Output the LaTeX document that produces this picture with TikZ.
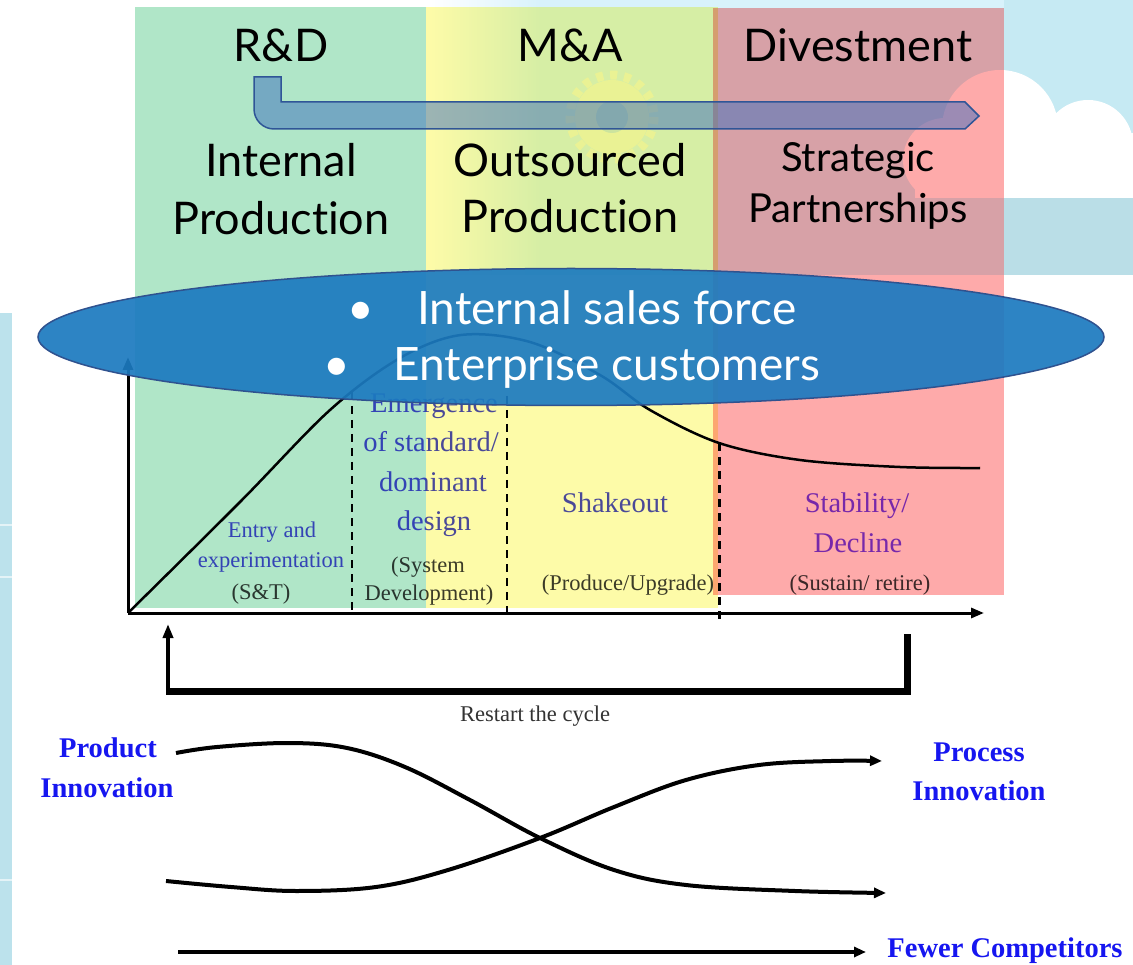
\documentclass[tikz,border=0pt]{standalone}
\usepackage{fontspec}
\newfontfamily\gillfont{Lato}[Ligatures=NoCommon]
\newfontfamily\timesfont{Liberation Serif}
\usetikzlibrary{arrows.meta,shapes.geometric}

\definecolor{skylight}{RGB}{216,242,251}
\definecolor{skyc}{RGB}{198,234,243}
\definecolor{skyband}{RGB}{186,222,231}
\definecolor{stripblue}{RGB}{188,226,236}
\definecolor{gearc}{RGB}{236,246,226}
\definecolor{gearhub}{RGB}{206,232,240}
\definecolor{colgreen}{RGB}{176,230,200}
\definecolor{colyellow}{RGB}{253,251,168}
\definecolor{colpink}{RGB}{254,170,170}
\definecolor{barfill}{RGB}{60,110,190}
\definecolor{barline}{RGB}{47,85,151}
\definecolor{ellfill}{RGB}{28,122,192}
\definecolor{ellline}{RGB}{47,82,143}
\definecolor{stageblue}{RGB}{75,75,232}
\definecolor{stagepurple}{RGB}{120,60,255}
\definecolor{stagegrey}{RGB}{60,60,60}
\definecolor{innoblue}{RGB}{22,22,240}

\begin{document}
\begin{tikzpicture}[x=1pt,y=-1pt,
  toplabel/.style={font=\gillfont\fontsize{45}{52}\selectfont, anchor=base, inner sep=0pt},
  partnerlabel/.style={font=\gillfont\fontsize{40}{46}\selectfont, anchor=base, inner sep=0pt},
  salesline/.style={font=\gillfont\fontsize{46}{52}\selectfont, text=white, anchor=base, inner sep=0pt},
  stagetitle/.style={font=\timesfont\fontsize{28.5}{30}\selectfont, text=stageblue, anchor=base, inner sep=0pt},
  stagetitlesm/.style={font=\timesfont\fontsize{22.5}{24}\selectfont, text=stageblue, anchor=base, inner sep=0pt},
  stagenote/.style={font=\timesfont\fontsize{22.5}{24}\selectfont, text=stagegrey, anchor=base, inner sep=0pt},
  innolabel/.style={font=\timesfont\bfseries\fontsize{28.5}{30}\selectfont, text=innoblue, anchor=base, inner sep=0pt},
  axisline/.style={line width=3pt, -{Triangle[length=13pt,width=10pt]}},
  phasediv/.style={line width=2.5pt, dash pattern=on 8pt off 6pt},
  lifecurve/.style={line width=2.5pt, line join=round},
  flowcurve/.style={line width=4pt, -{Triangle[length=12pt,width=10pt]}},
  loopline/.style={line width=7pt, line join=miter},
  looparrow/.style={line width=3.5pt, -{Triangle[length=14pt,width=10pt]}},
  bandarrow/.style={draw=barline, line width=1.5pt, fill=barfill, fill opacity=0.5},
  salesellipse/.style={ellipse, draw=ellline, line width=1.5pt, fill=ellfill, fill opacity=0.92,
    minimum width=1066pt, minimum height=137pt, inner sep=0pt}
]
\useasboundingbox (0,0) rectangle (1133,965);
\fill[white] (0,0) rectangle (1133,965);

% sky backdrop behind the strategy columns
\shade[left color=white, right color=skylight] (430,0) rectangle (540,275);
\fill[skylight] (540,0) rectangle (1004,275);
\fill[skyc] (1004,0) rectangle (1133,275);
\fill[skyband] (1004,198) rectangle (1133,275);
% cloud
\begin{scope}
  \clip (880,40) rectangle (1133,198);
  \fill[white] (945,160) circle (42);
  \fill[white] (1000,128) circle (58);
  \fill[white] (1088,145) circle (45);
  \fill[white] (1135,168) circle (35);
  \fill[white] (915,140) rectangle (1133,198);
\end{scope}
% gear
\fill[gearc] (612,117) circle (37);
\draw[gearc, line width=9pt, dash pattern=on 7pt off 7pt] (612,117) circle (42);
\fill[gearhub] (612,117) circle (16);

% left strip of the neighbouring slide
\fill[stripblue] (0,313) rectangle (12,965);
\draw[white, opacity=0.6, line width=1.5pt] (0,525) -- (12,525) (0,577) -- (12,577) (0,880) -- (12,880);

% ---------- industry life cycle ----------
\coordinate (origin) at (128,613);
\coordinate (ytip) at (128,357);
\coordinate (xtip) at (984,613);
\draw[axisline] (origin) -- (ytip);
\draw[axisline] (origin) -- (xtip);

\draw[lifecurve] plot[smooth, tension=0.55] coordinates {(128,613) (240,502) (330,410) (400,358) (461,335) (530,342) (600,375) (650,410) (719,443) (800,460) (900,467) (980,468)};

\coordinate (d1top) at (352,392); \coordinate (d1bot) at (352,612);
\coordinate (d2top) at (507,396); \coordinate (d2bot) at (507,612);
\coordinate (d3top) at (719,443); \coordinate (d3bot) at (719,619);
\draw[phasediv] (d1top) -- (d1bot);
\draw[phasediv] (d2top) -- (d2bot);
\draw[phasediv, line width=3pt] (d3top) -- (d3bot);

\node[stagetitlesm] (entry1) at (272,537) {Entry and};
\node[stagetitlesm] (entry2) at (271,567) {experimentation};
\node[stagenote] (entry3) at (261,599) {(S\&T)};

\node[stagetitle] (emerg1) at (434,413) {Emergence};
\node[stagetitle] (emerg2) at (431,452) {of standard/};
\node[stagetitle] (emerg3) at (433,492) {dominant};
\node[stagetitle] (emerg4) at (434,530) {design};
\node[stagenote] (emerg5) at (428,572) {(System};
\node[stagenote] (emerg6) at (429,600) {Development)};

\node[stagetitle] (shake1) at (615,512) {Shakeout};
\node[stagenote] (shake2) at (628,590) {(Produce/Upgrade)};

\node[stagetitle, text=stagepurple] (stab1) at (857,512) {Stability/};
\node[stagetitle, text=stagepurple] (stab2) at (858,552) {Decline};
\node[stagenote] (stab3) at (860,590) {(Sustain/ retire)};

% restart loop
\coordinate (rs1) at (907,634);
\coordinate (rs2) at (907,691);
\coordinate (rs3) at (166,691);
\coordinate (rs4) at (168,694);
\coordinate (rs5) at (168,624);
\draw[loopline] (rs1) -- (rs2) -- (rs3);
\draw[looparrow] (rs4) -- (rs5);
\node[stagenote, text=black!80] (restart) at (535,721) {Restart the cycle};

% ---------- strategy columns ----------
\begin{scope}[blend mode=multiply]
  \fill[colgreen] (135,7) rectangle (426,608);
  \fill[colyellow] (426,7) rectangle (718,608);
  \fill[colpink] (713,8) rectangle (1004,595);
\end{scope}

\draw[bandarrow] (254,77) -- (281,77) -- (281,102) -- (965,102) -- (979,116) -- (965,129) -- (274,129) .. controls (263,129) and (254,120) .. (254,109) -- cycle;

\node[toplabel] (rd) at (281,62) {R\&D};
\node[toplabel] (ma) at (570,62) {M\&A};
\node[toplabel] (divest) at (858,62) {Divestment};
\node[toplabel] (internal1) at (281,177) {Internal};
\node[toplabel] (internal2) at (281,235) {Production};
\node[toplabel] (outs1) at (570,177) {Outsourced};
\node[toplabel] (outs2) at (570,233) {Production};
\node[partnerlabel] (part1) at (858,172) {Strategic};
\node[partnerlabel] (part2) at (858,223) {Partnerships};

% ---------- sales channel ellipse ----------
\node[salesellipse] (sales) at (571,337) {};
\node[salesline] (sales1) at (572,325) {\textbullet\hspace{43pt}Internal sales force};
\node[salesline] (sales2) at (572,381) {\textbullet\hspace{43pt}Enterprise customers};

% ---------- product vs process innovation ----------
\node[innolabel] (prod1) at (108,757) {Product};
\node[innolabel] (prod2) at (107,797) {Innovation};
\node[innolabel] (proc1) at (979,761) {Process};
\node[innolabel] (proc2) at (979,800) {Innovation};

\draw[flowcurve] plot[smooth, tension=0.6] coordinates {(176,753) (217,747) (289,743) (347,748) (405,767) (470,800) (540,838) (614,870) (686,885) (795,891) (886,893)};
\draw[flowcurve] plot[smooth, tension=0.6] coordinates {(166,881) (231,887) (296,891) (376,887) (448,870) (540,838) (614,807) (686,780) (759,765) (831,761) (882,761)};

\coordinate (fewstart) at (178,952);
\coordinate (fewend) at (866,952);
\draw[flowcurve, line width=3.5pt] (fewstart) -- (fewend);
\node[innolabel] (fewer) at (1005,957) {Fewer Competitors};
\end{tikzpicture}
\end{document}
